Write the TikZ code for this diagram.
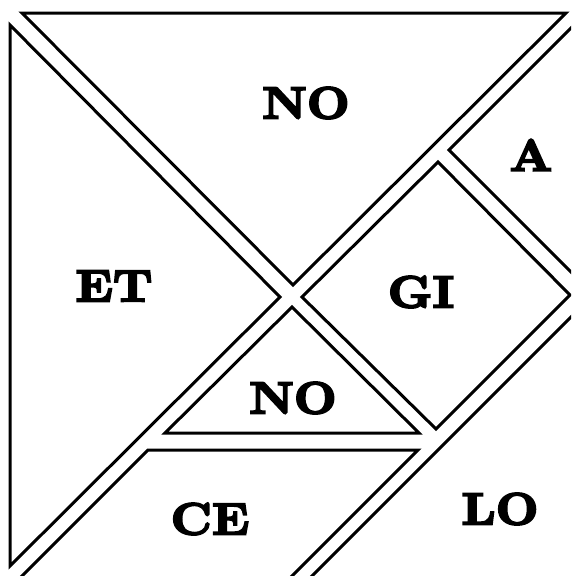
\documentclass[tikz,border=0pt]{standalone}
\usepackage{fontspec}
\newfontfamily\heavyfont{lmroman10-bold.otf}[FakeBold=4.5,FakeStretch=1.1]
\begin{document}
\begin{tikzpicture}[x=1pt,y=-1pt,
  piece/.style={draw=black,line width=3pt,line join=miter},
  lbl/.style={font=\fontsize{45}{45}\heavyfont,inner sep=0pt}]
\useasboundingbox[fill=white] (0,0) rectangle (571,576);
\begin{scope}
\clip (0,0) rectangle (571,576);
% large triangle top
\draw[piece] (22,13) -- (566,13) -- (293,285) -- cycle;
% large triangle left
\draw[piece] (10,25) -- (280,297) -- (10,566) -- cycle;
% small triangle A (open on the right)
\draw[piece] (590,9) -- (449,150) -- (590,291);
% square GI
\draw[piece] (438,162) -- (570,295) -- (436,429) -- (302,297) -- cycle;
% small triangle NO
\draw[piece] (292,307) -- (419,433) -- (165,433) -- cycle;
% parallelogram CE (bottom cut off)
\draw[piece] (278,590) -- (418,450) -- (148,450) -- (8,590);
% medium triangle LO (only hypotenuse visible)
\draw[piece] (590,298) -- (298,590);
\end{scope}
\node[lbl] (no1) at (306,103) {NO};
\node[lbl] (a)   at (531,155) {A};
\node[lbl] (et)  at (114,286) {ET};
\node[lbl] (gi)  at (421,292) {GI};
\node[lbl] (no2) at (293,398) {NO};
\node[lbl] (ce)  at (210,519) {CE};
\node[lbl] (lo)  at (500,509) {LO};
\end{tikzpicture}
\end{document}
